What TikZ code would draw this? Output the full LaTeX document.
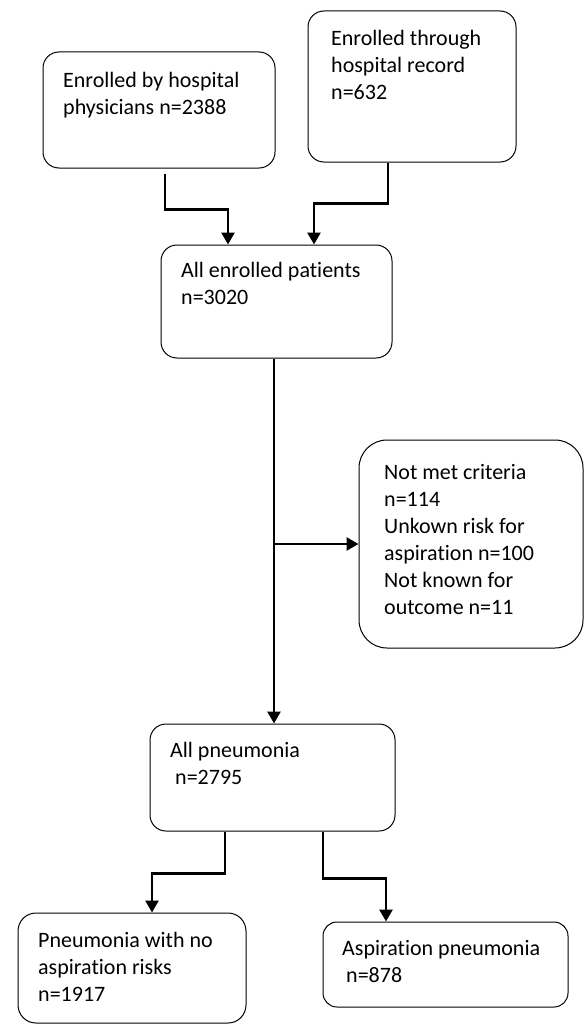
\documentclass[tikz,border=0pt]{standalone}
\usepackage{fontspec}
\setmainfont{Carlito}[Ligatures={NoCommon}]
\usetikzlibrary{arrows.meta,calc}
\begin{document}
\begin{tikzpicture}[x=1pt,y=-1pt,
  box/.style={draw=black,line width=1pt,rounded corners=16pt,inner sep=0pt},
  txt/.style={anchor=north west,inner sep=0pt,align=left,font=\fontsize{22}{27}\selectfont},
  conn/.style={draw=black,line width=2.7pt,-{Triangle[length=12pt,width=13pt]}}]
\useasboundingbox[fill=white] (0,0) rectangle (585,1025);
% boxes
\node[box,minimum width=232pt,minimum height=116pt] (A) at (159,110) {};
\node[box,minimum width=208pt,minimum height=151pt] (B) at (412,86.5) {};
\node[box,minimum width=231pt,minimum height=113pt] (C) at (276.5,301.5) {};
\node[box,rounded corners=28pt,minimum width=224pt,minimum height=208pt] (D) at (471,544) {};
\node[box,minimum width=245pt,minimum height=107pt] (G) at (272.5,777.5) {};
\node[box,rounded corners=18pt,minimum width=228pt,minimum height=110pt] (E) at (132,968) {};
\node[box,rounded corners=14pt,minimum width=245pt,minimum height=85pt] (F) at (445.5,964.5) {};
% texts
\node[txt] (tA) at (63,68.1) {\strut Enrolled by hospital\\physicians n=2388};
\node[txt] (tB) at (331,26.1) {\strut Enrolled through\\hospital record\\n=632};
\node[txt] (tC) at (181,258.1) {\strut All enrolled patients\\n=3020};
\node[txt] (tD) at (384,460.1) {\strut Not met criteria\\n=114\\Unkown risk for\\aspiration n=100\\Not known for\\outcome n=11};
\node[txt] (tG) at (170,738.1) {\strut All pneumonia\\\hspace*{5pt}n=2795};
\node[txt] (tE) at (38,928.1) {\strut Pneumonia with no\\aspiration risks\\n=1917};
\node[txt] (tF) at (342,936.1) {\strut Aspiration pneumonia\\\hspace*{4pt}n=878};
% connectors
\coordinate (a0) at ($(A.south)+(6,5)$);
\draw[conn] (a0) -- ++(0,36) -| ([xshift=-48.5pt]C.north);
\draw[conn] ([xshift=-24pt]B.south) -- ++(0,41) -| ([xshift=37.5pt]C.north);
\draw[conn] ([xshift=-2.5pt]C.south) -- ([xshift=1.5pt]G.north);
\coordinate (br) at (274,544);
\draw[conn] (br) -- (D.west);
\draw[conn] ([xshift=-47.5pt]G.south) -- ++(0,42) -| ([xshift=20pt]E.north);
\draw[conn] ([xshift=50.5pt]G.south) -- ++(0,47) -| ([xshift=-59.5pt]F.north);
\end{tikzpicture}
\end{document}
